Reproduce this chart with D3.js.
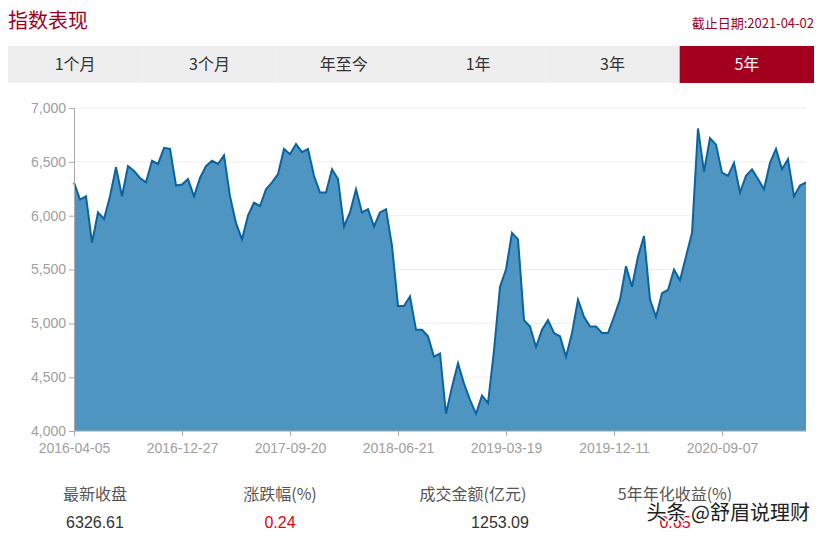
<!DOCTYPE html>
<html><head><meta charset="utf-8">
<script src="https://cdn.jsdelivr.net/npm/d3@7"></script>
<style>body{margin:0;background:#fff;font-family:"Noto Sans CJK SC",sans-serif}</style>
</head><body>
<svg id="c" width="822" height="537"></svg>
<script>
// close values, sampled every ~10 trading days
var values=[6307,6150,6180,5750,6030,5970,6180,6450,6180,6460,6415,6350,6310,6510,6480,6630,6620,6280,6290,6340,
6180,6350,6460,6510,6480,6560,6180,5930,5780,6000,6120,6090,6245,6310,6385,6620,6570,6665,6590,6620,
6370,6215,6215,6430,6340,5900,6030,6245,6030,6060,5900,6030,6060,5720,5160,5160,5250,4940,4940,4880,
4690,4720,4160,4410,4630,4440,4290,4160,4330,4260,4750,5340,5500,5840,5780,5030,4970,4780,4940,5030,
4910,4880,4690,4910,5220,5060,4970,4970,4910,4910,5060,5220,5530,5340,5620,5810,5220,5060,5280,5310,
5500,5400,5620,5840,6810,6410,6720,6660,6400,6370,6490,6215,6370,6430,6340,6245,6490,6620,6430,6525,
6180,6280,6310];
var tickLabels=["2016-04-05","2016-12-27","2017-09-20","2018-06-21","2019-03-19","2019-12-11","2020-09-07"];
var tickIdx=[0,18,36,54,72,90,108];
var yTicks=[4000,4500,5000,5500,6000,6500,7000];
var tabs=["1个月","3个月","年至今","1年","3年","5年"];
var statLabels=["最新收盘","涨跌幅(%)","成交金额(亿元)","5年年化收益(%)"];
var statValues=["6326.61","0.24","1253.09","0.65"];
var statColors=["#333","#e60012","#333","#e60012"];

var svg=d3.select('#c');
svg.append('text').attr('x',8).attr('y',28).attr('fill','#a0001f').attr('font-size',20).text('指数表现');
svg.append('text').attr('x',814).attr('y',28).attr('text-anchor','end').attr('fill','#a0001f').attr('font-size',13).text('截止日期:2021-04-02');

var tg=svg.selectAll('g.tab').data(tabs).enter().append('g');
tg.append('rect').attr('x',function(d,i){return 8+i*(806/6)}).attr('y',46).attr('width',806/6).attr('height',37)
  .attr('fill',function(d,i){return i==5?'#a3001f':'#eeeeee'});
tg.append('text').attr('x',function(d,i){return 8+(i+0.5)*(806/6)}).attr('y',70).attr('text-anchor','middle')
  .attr('font-size',16).attr('fill',function(d,i){return i==5?'#fff':'#333'}).text(function(d){return d});

var x=d3.scaleLinear().domain([0,values.length-1]).range([74,806]);
var y=d3.scaleLinear().domain([4000,7000]).range([431,108]);

svg.append('g').selectAll('line').data(yTicks).enter().append('line')
  .attr('x1',74).attr('x2',806).attr('y1',y).attr('y2',y).attr('stroke','#eeeeee');

svg.append('path').datum(values).attr('fill','#4f95c1')
  .attr('d',d3.area().x(function(d,i){return x(i)}).y0(y(4000)).y1(function(d){return y(d)}));
svg.append('path').datum(values).attr('fill','none').attr('stroke','#0b63a0').attr('stroke-width',2)
  .attr('d',d3.line().x(function(d,i){return x(i)}).y(function(d){return y(d)}));

var ya=svg.append('g').attr('transform','translate(74,0)')
  .call(d3.axisLeft(y).tickValues(yTicks).tickFormat(d3.format(',')).tickSize(5));
var xa=svg.append('g').attr('transform','translate(0,431)')
  .call(d3.axisBottom(x).tickValues(tickIdx).tickFormat(function(d,i){return tickLabels[i]}).tickSize(5));
[ya,xa].forEach(function(a){
  a.selectAll('path,line').attr('stroke','#aaa');
  a.selectAll('text').attr('fill','#a0a0a0').attr('font-size',14).attr('font-family','"Liberation Sans",sans-serif');
});
xa.selectAll('text').attr('dy','1em');
xa.select('.domain').remove();
xa.append('line').attr('x1',74).attr('x2',806).attr('stroke','#aaa');

var cols=[95,280,473,675];
svg.selectAll('text.sl').data(statLabels).enter().append('text').attr('x',function(d,i){return cols[i]})
  .attr('y',500).attr('text-anchor','middle').attr('font-size',16).attr('fill','#555').text(function(d){return d});
svg.selectAll('text.sv').data(statValues).enter().append('text').attr('x',function(d,i){return [95,280,500,675][i]})
  .attr('y',528).attr('text-anchor','middle').attr('font-size',16).attr('fill',function(d,i){return statColors[i]})
  .attr('font-family','"Liberation Sans",sans-serif').text(function(d){return d});
svg.append('text').attr('x',810).attr('y',520).attr('text-anchor','end').attr('font-size',20)
  .attr('fill','#222').attr('stroke','#fff').attr('stroke-width',3).attr('paint-order','stroke').text('头条 @舒眉说理财');
</script>
</body></html>
